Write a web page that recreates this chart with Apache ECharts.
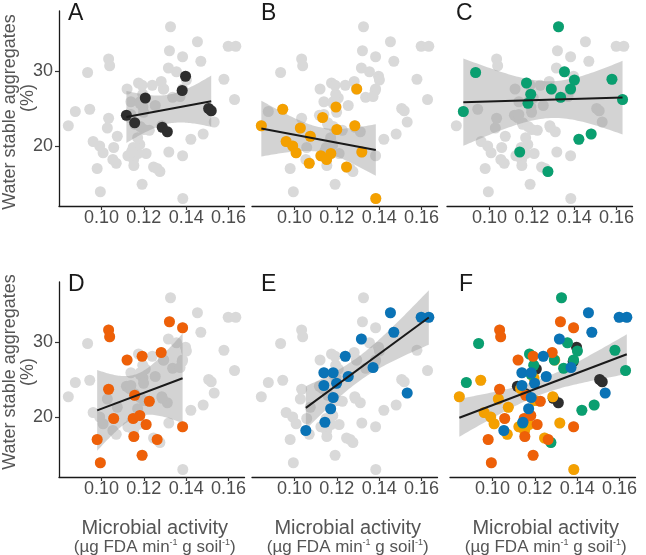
<!DOCTYPE html>
<html><head><meta charset="utf-8">
<script src="https://cdn.jsdelivr.net/npm/echarts@6/dist/echarts.min.js"></script>
<style>html,body{margin:0;padding:0;background:#fff}#c{width:646px;height:555px}</style>
</head><body><div id="c"></div>
<script>
// ---- data ----
const xTicks = [0.10, 0.12, 0.14, 0.16];
const yTicks = [20, 30];
const panelLetters = ['A', 'B', 'C', 'D', 'E', 'F'];
const xTitle = 'Microbial activity';
const yTitle = 'Water stable aggregates';

const aX = [0.1118, 0.1157, 0.1207, 0.1287, 0.1311, 0.1381, 0.1397, 0.1506, 0.1518];
const aY = [24.1, 23.1, 26.4, 22.5, 21.9, 27.4, 29.3, 25.0, 24.7];
const bX = [0.0844, 0.0945, 0.0961, 0.0992, 0.1008, 0.1028, 0.1075, 0.1070, 0.1133, 0.1125, 0.1152, 0.1172, 0.1196, 0.1200, 0.1246, 0.1285, 0.1294, 0.1318, 0.1384];
const bY = [22.7, 24.9, 20.6, 20.0, 19.1, 22.4, 21.3, 17.7, 23.8, 18.7, 18.2, 19.0, 25.2, 22.2, 17.2, 22.7, 27.6, 19.2, 13.0];
const cX = [0.1326, 0.0935, 0.0877, 0.1175, 0.1195, 0.1182, 0.1292, 0.1336, 0.1354, 0.1383, 0.1401, 0.1422, 0.1480, 0.1578, 0.1628, 0.1143, 0.1276];
const cY = [35.9, 29.8, 24.6, 28.4, 26.9, 25.7, 27.6, 26.5, 29.9, 27.6, 28.8, 20.9, 21.6, 28.9, 26.2, 19.2, 16.6];
const dX = [0.1034, 0.1039, 0.1034, 0.0980, 0.0995, 0.1058, 0.1121, 0.1150, 0.1157, 0.1153, 0.1181, 0.1192, 0.1192, 0.1211, 0.1226, 0.1263, 0.1282, 0.1321, 0.1383, 0.1383];
const dY = [31.6, 30.7, 23.7, 17.0, 13.9, 19.8, 27.6, 19.8, 22.9, 17.4, 20.2, 28.1, 14.9, 19.0, 22.1, 17.0, 28.6, 32.7, 31.9, 18.7];
const eX = [0.1054, 0.1144, 0.1171, 0.1183, 0.1139, 0.1139, 0.1183, 0.1199, 0.1254, 0.1240, 0.1316, 0.1371, 0.1453, 0.1469, 0.1532, 0.1598, 0.1634];
const eY = [18.2, 19.3, 21.1, 22.6, 24.2, 25.9, 25.9, 24.5, 25.4, 28.1, 30.4, 26.6, 33.9, 31.3, 23.2, 33.3, 33.3];

const groupColors = ['#2e2e2e', '#f4a000', '#0a9f70', '#ee6008', '#0a73b6'];
const groupsX = [aX, bX, cX, dX, eX];
const groupsY = [aY, bY, cY, dY, eY];

// ---- helpers ----
const FONT = '"Liberation Sans", Arial, sans-serif';
function zip(xs, ys) { return xs.map((x, i) => [x, ys[i]]); }
function tq(df) { // 0.975 t quantile (Cornish-Fisher)
  const z = 1.959964, z3 = z*z*z, z5 = z3*z*z, z7 = z5*z*z;
  return z + (z3 + z)/(4*df) + (5*z5 + 16*z3 + 3*z)/(96*df*df) + (3*z7 + 19*z5 + 17*z3 - 15*z)/(384*df*df*df);
}
function fit(xs, ys) {
  const n = xs.length;
  const mx = xs.reduce((a, b) => a + b, 0) / n, my = ys.reduce((a, b) => a + b, 0) / n;
  let sxx = 0, sxy = 0;
  for (let i = 0; i < n; i++) { sxx += (xs[i]-mx)**2; sxy += (xs[i]-mx)*(ys[i]-my); }
  const b = sxy / sxx, a = my - b*mx;
  let sse = 0;
  for (let i = 0; i < n; i++) sse += (ys[i] - a - b*xs[i])**2;
  const s = Math.sqrt(sse / (n - 2)), t = tq(n - 2);
  const xmin = Math.min(...xs), xmax = Math.max(...xs);
  const band = [];
  for (let k = 0; k <= 60; k++) {
    const x = xmin + (xmax - xmin)*k/60;
    const yh = a + b*x;
    const se = s*Math.sqrt(1/n + (x-mx)**2/sxx);
    band.push([x, yh - t*se, yh + t*se]);
  }
  return {line: [[xmin, a + b*xmin], [xmax, a + b*xmax]], band};
}

// ---- layout ----
const lefts = [59, 252, 447, 59, 252, 450];
const tops = [11, 11, 11, 282, 282, 282];
const W = 185.5, H = 195;

const grids = [], xAxes = [], yAxes = [], series = [], graphics = [];
const allX = [].concat(...groupsX), allY = [].concat(...groupsY);
const greyData = zip(allX, allY);

for (let p = 0; p < 6; p++) {
  grids.push({left: lefts[p], top: tops[p], width: W, height: H});
  xAxes.push({
    type: 'value', gridIndex: p, min: 0.08, max: 0.1675,
    axisLine: {show: true, lineStyle: {color: '#1a1a1a', width: 1.3}},
    axisTick: {show: true, customValues: xTicks, length: 4, lineStyle: {color: '#333', width: 1.2}},
    axisLabel: {show: true, customValues: xTicks, margin: 3, fontSize: 18, color: '#4d4d4d', fontFamily: FONT,
      formatter: v => Number(v).toFixed(2)},
    splitLine: {show: false}
  });
  const hasY = (p === 0 || p === 3);
  yAxes.push({
    type: 'value', gridIndex: p, min: 12, max: 38, show: hasY,
    axisLine: {show: true, lineStyle: {color: '#1a1a1a', width: 1.3}},
    axisTick: {show: true, customValues: yTicks, length: 4, lineStyle: {color: '#333', width: 1.2}},
    axisLabel: {show: true, customValues: yTicks, margin: 6, fontSize: 18, color: '#4d4d4d', fontFamily: FONT},
    splitLine: {show: false}
  });
  series.push({type: 'scatter', xAxisIndex: p, yAxisIndex: p, data: greyData, symbolSize: 11,
    itemStyle: {color: '#d9d9d9', opacity: 1}, z: 1, silent: true});

  const gx = p < 5 ? groupsX[p] : allX;
  const gy = p < 5 ? groupsY[p] : allY;
  const f = fit(gx, gy);
  series.push({type: 'custom', xAxisIndex: p, yAxisIndex: p, z: 2, silent: true,
    data: [f.line[0]],
    renderItem: (params, api) => {
      const up = f.band.map(q => api.coord([q[0], q[2]]));
      const lo = f.band.map(q => api.coord([q[0], q[1]])).reverse();
      return {type: 'polygon', shape: {points: up.concat(lo)}, style: {fill: 'rgba(150,150,150,0.42)'}};
    }});
  const gs = p < 5 ? [p] : [0, 1, 2, 3, 4];
  gs.forEach(g => {
    series.push({type: 'scatter', xAxisIndex: p, yAxisIndex: p, data: zip(groupsX[g], groupsY[g]), symbolSize: 11,
      itemStyle: {color: groupColors[g], opacity: 1}, z: 3, silent: true});
  });
  series.push({type: 'line', xAxisIndex: p, yAxisIndex: p, data: f.line, showSymbol: false, symbol: 'none',
    lineStyle: {color: '#1a1a1a', width: 2}, z: 4, silent: true});

  graphics.push({type: 'text', x: lefts[p] + 9, y: tops[p] - 9, z: 10,
    style: {text: panelLetters[p], fontSize: 23, fill: '#1a1a1a', fontFamily: FONT}});
}

// y titles
[[112, 98], [372, 372]].forEach(([cy, cy2]) => {
  graphics.push({type: 'text', x: 10, y: cy, rotation: Math.PI/2,
    style: {text: yTitle, fontSize: 18, fill: '#555', fontFamily: FONT, align: 'center', verticalAlign: 'middle'}});
  graphics.push({type: 'text', x: 28, y: cy2, rotation: Math.PI/2,
    style: {text: '(%)', fontSize: 18, fill: '#555', fontFamily: FONT, align: 'center', verticalAlign: 'middle'}});
});
// x titles
[3, 4, 5].forEach(p => {
  const cx = lefts[p] + W/2 + 3;
  graphics.push({type: 'text', x: cx, y: 528,
    style: {text: xTitle, fontSize: 20, fill: '#555', fontFamily: FONT, align: 'center', verticalAlign: 'middle'}});
  graphics.push({type: 'text', x: cx, y: 547,
    style: {text: '(µg FDA min{s|-1} g soil{s|-1})', fontSize: 17, fill: '#555', fontFamily: FONT, align: 'center', verticalAlign: 'middle',
      rich: {s: {fontSize: 9, fill: '#555', fontFamily: FONT, verticalAlign: 'top', lineHeight: 17}}}});
});

const chart = echarts.init(document.getElementById('c'), null, {renderer: 'canvas'});
chart.setOption({
  animation: false,
  grid: grids, xAxis: xAxes, yAxis: yAxes, series: series, graphic: graphics
});
</script></body></html>
